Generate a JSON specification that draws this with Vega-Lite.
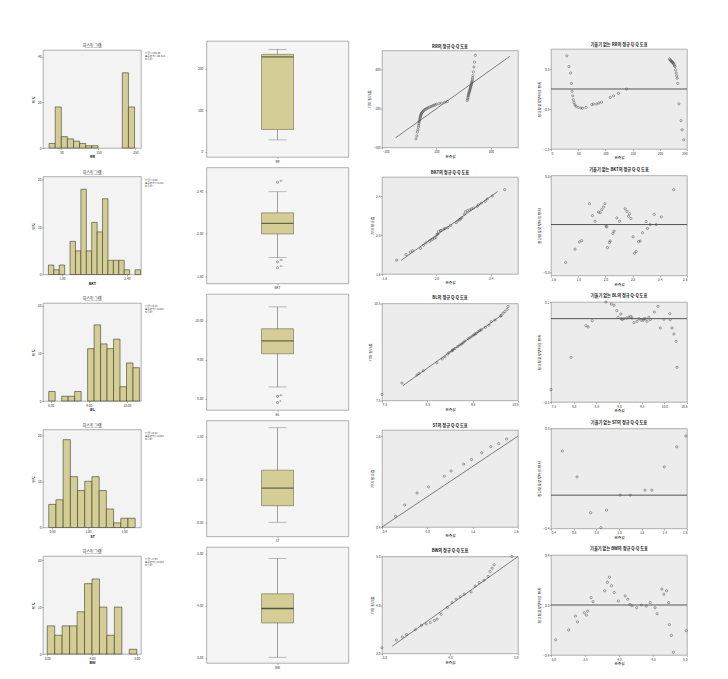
{
  "$schema": "https://vega.github.io/schema/vega-lite/v6.json",
  "background": "white",
  "padding": {"left": 31, "top": 40, "right": 0, "bottom": 0},
  "config": {
    "font": "Noto Sans CJK KR",
    "view": {"stroke": "#8f8f8f", "strokeWidth": 0.7},
    "axis": {"labelFontSize": 3.2, "titleFontSize": 3.8, "titleFontWeight": "normal", "labelColor": "#333333", "titleColor": "#222222", "tickSize": 1.5, "tickColor": "#666666", "tickWidth": 0.5, "domain": false, "grid": false, "labelPadding": 0.5, "titlePadding": 1.5},
    "title": {"fontSize": 4.2, "fontWeight": "bold", "offset": 1.5, "color": "#222222"},
    "point": {"shape": "circle", "size": 5, "stroke": "#4a4a4a", "strokeWidth": 0.5, "filled": false, "opacity": 1}
  },
  "spacing": 18,
  "hconcat": [
    {
      "spacing": 27.5,
      "hconcat": [
        {
          "bounds": "flush",
          "spacing": 8,
          "vconcat": [
            {"width": 1, "height": 1, "data": {"values": []}, "mark": "point", "view": {"stroke": null, "fill": null}},
            {
              "bounds": "flush",
              "spacing": 28.5,
              "vconcat": [
                {
                  "width": 98, "height": 98,
                  "view": {"fill": "#f3f3f3"},
                  "title": {"text": "히스토그램", "fontWeight": "normal"},
                  "layer": [
                    {"data": {"values": [{"start":16.5,"end":33,"count":2},{"start":33,"end":49.5,"count":18},{"start":49.5,"end":66,"count":5},{"start":66,"end":82.5,"count":4},{"start":82.5,"end":99,"count":3},{"start":99,"end":115.5,"count":2},{"start":115.5,"end":132,"count":1},{"start":132,"end":148.5,"count":1},{"start":214.5,"end":231,"count":33},{"start":231,"end":247.5,"count":18}]},
                     "mark": {"type": "rect", "fill": "#d4ce96", "stroke": "#3d3d2a", "strokeWidth": 0.6},
                     "encoding": {
                       "x": {"field": "start", "type": "quantitative", "title": "RR", "scale": {"domain": [0, 265], "nice": false, "zero": false}, "axis": {"values": [50,100,150,200,250], "format": "d", "titleFontWeight": "bold"}},
                       "x2": {"field": "end"},
                       "y": {"field": "count", "type": "quantitative", "title": "빈도", "scale": {"domain": [0, 43], "nice": false}, "axis": {"values": [0,10,20,30,40]}},
                       "y2": {"datum": 0}
                     }},
                    {"data": {"values": [{}]},
                     "mark": {"type": "text", "text": ["평균 = 158.46", "표준편차 = 88.312", "N = 87"], "align": "left", "baseline": "top", "dx": 4, "dy": 2, "fontSize": 2.6, "lineHeight": 3, "color": "#333333"},
                     "encoding": {"x": {"datum": 265}, "y": {"datum": 43}}}
                  ]
                },
                {
                  "width": 98, "height": 98,
                  "view": {"fill": "#f3f3f3"},
                  "title": {"text": "히스토그램", "fontWeight": "normal"},
                  "layer": [
                    {"data": {"values": [{"start":1.675,"end":1.725,"count":2},{"start":1.725,"end":1.775,"count":1},{"start":1.775,"end":1.825,"count":2},{"start":1.875,"end":1.925,"count":7},{"start":1.925,"end":1.975,"count":5},{"start":1.975,"end":2.025,"count":18},{"start":2.025,"end":2.075,"count":5},{"start":2.075,"end":2.125,"count":11},{"start":2.125,"end":2.175,"count":9},{"start":2.175,"end":2.225,"count":16},{"start":2.225,"end":2.275,"count":3},{"start":2.275,"end":2.325,"count":3},{"start":2.325,"end":2.375,"count":3},{"start":2.375,"end":2.425,"count":1},{"start":2.475,"end":2.525,"count":1}]},
                     "mark": {"type": "rect", "fill": "#d4ce96", "stroke": "#3d3d2a", "strokeWidth": 0.6},
                     "encoding": {
                       "x": {"field": "start", "type": "quantitative", "title": "BKT", "scale": {"domain": [1.625, 2.53], "nice": false, "zero": false}, "axis": {"values": [1.8,2.0,2.2,2.4], "format": ".2f", "titleFontWeight": "bold"}},
                       "x2": {"field": "end"},
                       "y": {"field": "count", "type": "quantitative", "title": "빈도", "scale": {"domain": [0, 20.7], "nice": false}, "axis": {"values": [0,5,10,15,20]}},
                       "y2": {"datum": 0}
                     }},
                    {"data": {"values": [{}]},
                     "mark": {"type": "text", "text": ["평균 = 2.08", "표준편차 = 0.151", "N = 87"], "align": "left", "baseline": "top", "dx": 4, "dy": 2, "fontSize": 2.6, "lineHeight": 3, "color": "#333333"},
                     "encoding": {"x": {"datum": 2.53}, "y": {"datum": 20.7}}}
                  ]
                },
                {
                  "width": 98, "height": 98,
                  "view": {"fill": "#f3f3f3"},
                  "title": {"text": "히스토그램", "fontWeight": "normal"},
                  "layer": [
                    {"data": {"values": [{"start":7.95,"end":8.12,"count":2},{"start":8.29,"end":8.46,"count":1},{"start":8.46,"end":8.63,"count":1},{"start":8.63,"end":8.80,"count":2},{"start":8.97,"end":9.14,"count":11},{"start":9.14,"end":9.31,"count":16},{"start":9.31,"end":9.48,"count":12},{"start":9.48,"end":9.65,"count":11},{"start":9.65,"end":9.82,"count":13},{"start":9.82,"end":9.99,"count":3},{"start":9.99,"end":10.16,"count":8},{"start":10.16,"end":10.33,"count":7}]},
                     "mark": {"type": "rect", "fill": "#d4ce96", "stroke": "#3d3d2a", "strokeWidth": 0.6},
                     "encoding": {
                       "x": {"field": "start", "type": "quantitative", "title": "BL", "scale": {"domain": [7.8, 10.37], "nice": false, "zero": false}, "axis": {"values": [8.0,8.5,9.0,9.5,10.0], "format": ".2f", "titleFontWeight": "bold"}},
                       "x2": {"field": "end"},
                       "y": {"field": "count", "type": "quantitative", "title": "빈도", "scale": {"domain": [0, 20.6], "nice": false}, "axis": {"values": [0,5,10,15,20]}},
                       "y2": {"datum": 0}
                     }},
                    {"data": {"values": [{}]},
                     "mark": {"type": "text", "text": ["평균 = 9.45", "표준편차 = 0.452", "N = 87"], "align": "left", "baseline": "top", "dx": 4, "dy": 2, "fontSize": 2.6, "lineHeight": 3, "color": "#333333"},
                     "encoding": {"x": {"datum": 10.37}, "y": {"datum": 20.6}}}
                  ]
                },
                {
                  "width": 98, "height": 98,
                  "view": {"fill": "#f3f3f3"},
                  "title": {"text": "히스토그램", "fontWeight": "normal"},
                  "layer": [
                    {"data": {"values": [{"start":0.455,"end":0.555,"count":5},{"start":0.555,"end":0.655,"count":6},{"start":0.655,"end":0.755,"count":19},{"start":0.755,"end":0.855,"count":11},{"start":0.855,"end":0.955,"count":8},{"start":0.955,"end":1.055,"count":10},{"start":1.055,"end":1.155,"count":11},{"start":1.155,"end":1.255,"count":8},{"start":1.255,"end":1.355,"count":4},{"start":1.355,"end":1.455,"count":1},{"start":1.455,"end":1.555,"count":2},{"start":1.555,"end":1.655,"count":2}]},
                     "mark": {"type": "rect", "fill": "#d4ce96", "stroke": "#3d3d2a", "strokeWidth": 0.6},
                     "encoding": {
                       "x": {"field": "start", "type": "quantitative", "title": "ST", "scale": {"domain": [0.375, 1.736], "nice": false, "zero": false}, "axis": {"values": [0.5,0.75,1.0,1.25,1.5], "format": ".2f", "titleFontWeight": "bold"}},
                       "x2": {"field": "end"},
                       "y": {"field": "count", "type": "quantitative", "title": "빈도", "scale": {"domain": [0, 21.2], "nice": false}, "axis": {"values": [0,5,10,15,20]}},
                       "y2": {"datum": 0}
                     }},
                    {"data": {"values": [{}]},
                     "mark": {"type": "text", "text": ["평균 = 0.92", "표준편차 = 0.262", "N = 87"], "align": "left", "baseline": "top", "dx": 4, "dy": 2, "fontSize": 2.6, "lineHeight": 3, "color": "#333333"},
                     "encoding": {"x": {"datum": 1.736}, "y": {"datum": 21.2}}}
                  ]
                },
                {
                  "width": 98, "height": 98,
                  "view": {"fill": "#f3f3f3"},
                  "title": {"text": "히스토그램", "fontWeight": "normal"},
                  "layer": [
                    {"data": {"values": [{"start":3.0,"end":3.167,"count":6},{"start":3.167,"end":3.333,"count":4},{"start":3.333,"end":3.5,"count":6},{"start":3.5,"end":3.667,"count":6},{"start":3.667,"end":3.833,"count":9},{"start":3.833,"end":4.0,"count":15},{"start":4.0,"end":4.167,"count":16},{"start":4.167,"end":4.333,"count":10},{"start":4.333,"end":4.5,"count":4},{"start":4.5,"end":4.667,"count":10},{"start":4.833,"end":5.0,"count":1}]},
                     "mark": {"type": "rect", "fill": "#d4ce96", "stroke": "#3d3d2a", "strokeWidth": 0.6},
                     "encoding": {
                       "x": {"field": "start", "type": "quantitative", "title": "BW", "scale": {"domain": [2.905, 5.095], "nice": false, "zero": false}, "axis": {"values": [3.0,3.5,4.0,4.5,5.0], "format": ".2f", "titleFontWeight": "bold"}},
                       "x2": {"field": "end"},
                       "y": {"field": "count", "type": "quantitative", "title": "빈도", "scale": {"domain": [0, 20.9], "nice": false}, "axis": {"values": [0,5,10,15,20]}},
                       "y2": {"datum": 0}
                     }},
                    {"data": {"values": [{}]},
                     "mark": {"type": "text", "text": ["평균 = 3.93", "표준편차 = 0.433", "N = 87"], "align": "left", "baseline": "top", "dx": 4, "dy": 2, "fontSize": 2.6, "lineHeight": 3, "color": "#333333"},
                     "encoding": {"x": {"datum": 5.095}, "y": {"datum": 20.9}}}
                  ]
                }
              ]
            }
          ]
        },
        {
          "bounds": "flush",
          "spacing": 10.5,
          "vconcat": [
            {
              "width": 142, "height": 116,
              "view": {"fill": "#f5f5f5"},
              "data": {"values": [{"var": "RR", "lo": 29, "q1": 54, "med": 228, "q3": 234, "hi": 246}]},
              "encoding": {"x": {"field": "var", "type": "nominal", "title": null, "axis": {"labelAngle": 0}}},
              "layer": [
                {"mark": {"type": "rule", "color": "#7a7a7a", "strokeWidth": 0.7}, "encoding": {"y": {"field": "lo", "type": "quantitative", "title": null, "scale": {"domain": [-12, 266], "nice": false, "zero": false}, "axis": {"values": [0,50,100,150,200,250], "format": "d", "labelPadding": 2.2}}, "y2": {"field": "hi"}}},
                {"mark": {"type": "tick", "color": "#7a7a7a", "size": 18, "thickness": 0.7}, "encoding": {"y": {"field": "lo", "type": "quantitative", "title": null}}},
                {"mark": {"type": "tick", "color": "#7a7a7a", "size": 18, "thickness": 0.7}, "encoding": {"y": {"field": "hi", "type": "quantitative", "title": null}}},
                {"mark": {"type": "bar", "size": 32, "fill": "#d4ce96", "stroke": "#6e6c4e", "strokeWidth": 0.6}, "encoding": {"y": {"field": "q1", "type": "quantitative", "title": null}, "y2": {"field": "q3"}}},
                {"mark": {"type": "tick", "color": "#3a3a2a", "size": 32, "thickness": 1.2}, "encoding": {"y": {"field": "med", "type": "quantitative", "title": null}}}
              ]
            },
            {
              "width": 142, "height": 116,
              "view": {"fill": "#f5f5f5"},
              "encoding": {"x": {"field": "var", "type": "nominal", "title": null, "axis": {"labelAngle": 0}}},
              "layer": [
                {"data": {"values": [{"var": "BKT", "lo": 1.775, "q1": 2.0, "med": 2.1, "q3": 2.2, "hi": 2.4}]},
                 "layer": [
                  {"mark": {"type": "rule", "color": "#7a7a7a", "strokeWidth": 0.7}, "encoding": {"y": {"field": "lo", "type": "quantitative", "title": null, "scale": {"domain": [1.53, 2.63], "nice": false, "zero": false}, "axis": {"values": [1.6,1.8,2.0,2.2,2.4,2.6], "format": ".2f", "labelPadding": 2.2}}, "y2": {"field": "hi"}}},
                  {"mark": {"type": "tick", "color": "#7a7a7a", "size": 18, "thickness": 0.7}, "encoding": {"y": {"field": "lo", "type": "quantitative", "title": null}}},
                  {"mark": {"type": "tick", "color": "#7a7a7a", "size": 18, "thickness": 0.7}, "encoding": {"y": {"field": "hi", "type": "quantitative", "title": null}}},
                  {"mark": {"type": "bar", "size": 32, "fill": "#d4ce96", "stroke": "#6e6c4e", "strokeWidth": 0.6}, "encoding": {"y": {"field": "q1", "type": "quantitative", "title": null}, "y2": {"field": "q3"}}},
                  {"mark": {"type": "tick", "color": "#3a3a2a", "size": 32, "thickness": 1.2}, "encoding": {"y": {"field": "med", "type": "quantitative", "title": null}}}
                 ]},
                {"data": {"values": [{"var": "BKT", "v": 2.49, "id": "37"}, {"var": "BKT", "v": 1.735, "id": "45"}, {"var": "BKT", "v": 1.68, "id": "11"}]},
                 "layer": [
                  {"mark": {"type": "point"}, "encoding": {"y": {"field": "v", "type": "quantitative", "title": null}}},
                  {"mark": {"type": "text", "align": "left", "dx": 2, "dy": -1.5, "fontSize": 2.8, "color": "#444444"}, "encoding": {"y": {"field": "v", "type": "quantitative", "title": null}, "text": {"field": "id"}}}
                 ]}
              ]
            },
            {
              "width": 142, "height": 116,
              "view": {"fill": "#f5f5f5"},
              "encoding": {"x": {"field": "var", "type": "nominal", "title": null, "axis": {"labelAngle": 0}}},
              "layer": [
                {"data": {"values": [{"var": "BL", "lo": 8.3, "q1": 9.15, "med": 9.48, "q3": 9.79, "hi": 10.35}]},
                 "layer": [
                  {"mark": {"type": "rule", "color": "#7a7a7a", "strokeWidth": 0.7}, "encoding": {"y": {"field": "lo", "type": "quantitative", "title": null, "scale": {"domain": [7.71, 10.68], "nice": false, "zero": false}, "axis": {"values": [8.0,8.5,9.0,9.5,10.0,10.5], "format": ".2f", "labelPadding": 2.2}}, "y2": {"field": "hi"}}},
                  {"mark": {"type": "tick", "color": "#7a7a7a", "size": 18, "thickness": 0.7}, "encoding": {"y": {"field": "lo", "type": "quantitative", "title": null}}},
                  {"mark": {"type": "tick", "color": "#7a7a7a", "size": 18, "thickness": 0.7}, "encoding": {"y": {"field": "hi", "type": "quantitative", "title": null}}},
                  {"mark": {"type": "bar", "size": 32, "fill": "#d4ce96", "stroke": "#6e6c4e", "strokeWidth": 0.6}, "encoding": {"y": {"field": "q1", "type": "quantitative", "title": null}, "y2": {"field": "q3"}}},
                  {"mark": {"type": "tick", "color": "#3a3a2a", "size": 32, "thickness": 1.2}, "encoding": {"y": {"field": "med", "type": "quantitative", "title": null}}}
                 ]},
                {"data": {"values": [{"var": "BL", "v": 8.06, "id": "21"}, {"var": "BL", "v": 7.9, "id": "5"}]},
                 "layer": [
                  {"mark": {"type": "point"}, "encoding": {"y": {"field": "v", "type": "quantitative", "title": null}}},
                  {"mark": {"type": "text", "align": "left", "dx": 2, "dy": -1.5, "fontSize": 2.8, "color": "#444444"}, "encoding": {"y": {"field": "v", "type": "quantitative", "title": null}, "text": {"field": "id"}}}
                 ]}
              ]
            },
            {
              "width": 142, "height": 116,
              "view": {"fill": "#f5f5f5"},
              "data": {"values": [{"var": "ST", "lo": 0.50, "q1": 0.692, "med": 0.896, "q3": 1.104, "hi": 1.596}]},
              "encoding": {"x": {"field": "var", "type": "nominal", "title": null, "axis": {"labelAngle": 0}}},
              "layer": [
                {"mark": {"type": "rule", "color": "#7a7a7a", "strokeWidth": 0.7}, "encoding": {"y": {"field": "lo", "type": "quantitative", "title": null, "scale": {"domain": [0.335, 1.68], "nice": false, "zero": false}, "axis": {"values": [0.5,0.75,1.0,1.25,1.5], "format": ".2f", "labelPadding": 2.2}}, "y2": {"field": "hi"}}},
                {"mark": {"type": "tick", "color": "#7a7a7a", "size": 18, "thickness": 0.7}, "encoding": {"y": {"field": "lo", "type": "quantitative", "title": null}}},
                {"mark": {"type": "tick", "color": "#7a7a7a", "size": 18, "thickness": 0.7}, "encoding": {"y": {"field": "hi", "type": "quantitative", "title": null}}},
                {"mark": {"type": "bar", "size": 32, "fill": "#d4ce96", "stroke": "#6e6c4e", "strokeWidth": 0.6}, "encoding": {"y": {"field": "q1", "type": "quantitative", "title": null}, "y2": {"field": "q3"}}},
                {"mark": {"type": "tick", "color": "#3a3a2a", "size": 32, "thickness": 1.2}, "encoding": {"y": {"field": "med", "type": "quantitative", "title": null}}}
              ]
            },
            {
              "width": 142, "height": 116,
              "view": {"fill": "#f5f5f5"},
              "data": {"values": [{"var": "BW", "lo": 3.01, "q1": 3.67, "med": 3.95, "q3": 4.23, "hi": 4.91}]},
              "encoding": {"x": {"field": "var", "type": "nominal", "title": null, "axis": {"labelAngle": 0}}},
              "layer": [
                {"mark": {"type": "rule", "color": "#7a7a7a", "strokeWidth": 0.7}, "encoding": {"y": {"field": "lo", "type": "quantitative", "title": null, "scale": {"domain": [2.9, 5.13], "nice": false, "zero": false}, "axis": {"values": [3.0,3.5,4.0,4.5,5.0], "format": ".2f", "labelPadding": 2.2}}, "y2": {"field": "hi"}}},
                {"mark": {"type": "tick", "color": "#7a7a7a", "size": 18, "thickness": 0.7}, "encoding": {"y": {"field": "lo", "type": "quantitative", "title": null}}},
                {"mark": {"type": "tick", "color": "#7a7a7a", "size": 18, "thickness": 0.7}, "encoding": {"y": {"field": "hi", "type": "quantitative", "title": null}}},
                {"mark": {"type": "bar", "size": 32, "fill": "#d4ce96", "stroke": "#6e6c4e", "strokeWidth": 0.6}, "encoding": {"y": {"field": "q1", "type": "quantitative", "title": null}, "y2": {"field": "q3"}}},
                {"mark": {"type": "tick", "color": "#1e1e14", "size": 32, "thickness": 1.5}, "encoding": {"y": {"field": "med", "type": "quantitative", "title": null}}}
              ]
            }
          ]
        }
      ]
    },
    {
      "spacing": 17,
      "hconcat": [
        {
          "bounds": "flush",
          "spacing": 8.5,
          "vconcat": [
            {"width": 1, "height": 1, "data": {"values": []}, "mark": "point", "view": {"stroke": null, "fill": null}},
            {
              "bounds": "flush",
              "spacing": 29.5,
              "vconcat": [
                {
                  "width": 136, "height": 97,
                  "view": {"fill": "#ececec"},
                  "title": {"text": "RR의 정규 Q-Q 도표"},
                  "layer": [
                    {"data": {"values": [{"obs":25,"exp":-55},{"obs":28,"exp":-40},{"obs":30,"exp":-20},{"obs":32,"exp":-8},{"obs":34,"exp":5},{"obs":35,"exp":15},{"obs":36,"exp":25},{"obs":37,"exp":33},{"obs":38,"exp":40},{"obs":39,"exp":47},{"obs":40,"exp":53},{"obs":41,"exp":58},{"obs":42,"exp":63},{"obs":43,"exp":68},{"obs":44,"exp":72},{"obs":45,"exp":76},{"obs":47,"exp":80},{"obs":49,"exp":84},{"obs":52,"exp":88},{"obs":55,"exp":92},{"obs":58,"exp":96},{"obs":62,"exp":99},{"obs":66,"exp":102},{"obs":70,"exp":105},{"obs":75,"exp":108},{"obs":80,"exp":111},{"obs":85,"exp":114},{"obs":90,"exp":117},{"obs":95,"exp":120},{"obs":100,"exp":123},{"obs":110,"exp":126},{"obs":118,"exp":129},{"obs":130,"exp":133},{"obs":140,"exp":137},{"obs":213,"exp":142},{"obs":215,"exp":150},{"obs":216,"exp":158},{"obs":217,"exp":165},{"obs":218,"exp":171},{"obs":219,"exp":177},{"obs":220,"exp":182},{"obs":221,"exp":187},{"obs":222,"exp":192},{"obs":223,"exp":197},{"obs":224,"exp":202},{"obs":225,"exp":207},{"obs":226,"exp":212},{"obs":227,"exp":217},{"obs":228,"exp":222},{"obs":229,"exp":228},{"obs":230,"exp":234},{"obs":231,"exp":240},{"obs":232,"exp":248},{"obs":233,"exp":258},{"obs":234,"exp":270},{"obs":236,"exp":290},{"obs":238,"exp":315},{"obs":240,"exp":340},{"obs":243,"exp":375}]},
                     "mark": {"type": "point"},
                     "encoding": {
                       "x": {"field": "obs", "type": "quantitative", "title": "관측값", "scale": {"domain": [-100, 400], "nice": false, "zero": false}, "axis": {"values": [-100,0,100,200,300,400], "format": "d"}},
                       "y": {"field": "exp", "type": "quantitative", "title": "기대 정규값", "scale": {"domain": [-100, 400], "nice": false, "zero": false}, "axis": {"values": [-100,0,100,200,300,400], "format": "d"}}
                     }},
                    {"data": {"values": [{}]}, "mark": {"type": "rule", "color": "#333333", "strokeWidth": 0.6},
                     "encoding": {"x": {"datum": -50}, "y": {"datum": -50}, "x2": {"datum": 370}, "y2": {"datum": 370}}}
                  ]
                },
                {
                  "width": 136, "height": 97,
                  "view": {"fill": "#ececec"},
                  "title": {"text": "BKT의 정규 Q-Q 도표"},
                  "layer": [
                    {"data": {"values": [{"obs":1.708,"exp":1.743},{"obs":1.777,"exp":1.800},{"obs":1.809,"exp":1.825},{"obs":1.826,"exp":1.841},{"obs":1.883,"exp":1.864},{"obs":1.905,"exp":1.897},{"obs":1.924,"exp":1.921},{"obs":1.949,"exp":1.937},{"obs":1.961,"exp":1.950},{"obs":1.973,"exp":1.959},{"obs":1.986,"exp":1.970},{"obs":1.996,"exp":1.977},{"obs":2.005,"exp":2.007},{"obs":2.010,"exp":2.012},{"obs":2.015,"exp":2.036},{"obs":2.030,"exp":2.047},{"obs":2.035,"exp":2.050},{"obs":2.055,"exp":2.063},{"obs":2.064,"exp":2.070},{"obs":2.084,"exp":2.078},{"obs":2.104,"exp":2.101},{"obs":2.145,"exp":2.130},{"obs":2.158,"exp":2.146},{"obs":2.170,"exp":2.162},{"obs":2.177,"exp":2.167},{"obs":2.187,"exp":2.181},{"obs":2.204,"exp":2.215},{"obs":2.214,"exp":2.241},{"obs":2.227,"exp":2.252},{"obs":2.244,"exp":2.260},{"obs":2.256,"exp":2.271},{"obs":2.273,"exp":2.281},{"obs":2.300,"exp":2.297},{"obs":2.310,"exp":2.314},{"obs":2.330,"exp":2.330},{"obs":2.359,"exp":2.350},{"obs":2.374,"exp":2.374},{"obs":2.411,"exp":2.404},{"obs":2.502,"exp":2.470}]},
                     "mark": {"type": "point"},
                     "encoding": {
                       "x": {"field": "obs", "type": "quantitative", "title": "관측값", "scale": {"domain": [1.6, 2.6], "nice": false, "zero": false}, "axis": {"values": [1.6,1.8,2.0,2.2,2.4,2.6], "format": ".1f"}},
                       "y": {"field": "exp", "type": "quantitative", "title": "기대 정규값", "scale": {"domain": [1.6, 2.6], "nice": false, "zero": false}, "axis": {"values": [1.6,1.8,2.0,2.2,2.4,2.6], "format": ".1f"}}
                     }},
                    {"data": {"values": [{}]}, "mark": {"type": "rule", "color": "#333333", "strokeWidth": 0.6},
                     "encoding": {"x": {"datum": 1.74}, "y": {"datum": 1.74}, "x2": {"datum": 2.45}, "y2": {"datum": 2.45}}}
                  ]
                },
                {
                  "width": 136, "height": 97,
                  "view": {"fill": "#ececec"},
                  "title": {"text": "BL의 정규 Q-Q 도표"},
                  "layer": [
                    {"data": {"values": [{"obs":7.50,"exp":7.69},{"obs":7.94,"exp":8.04},{"obs":8.27,"exp":8.29},{"obs":8.32,"exp":8.34},{"obs":8.41,"exp":8.42},{"obs":8.71,"exp":8.67},{"obs":8.83,"exp":8.79},{"obs":8.89,"exp":8.85},{"obs":8.95,"exp":8.93},{"obs":8.98,"exp":8.98},{"obs":9.04,"exp":9.03},{"obs":9.05,"exp":9.05},{"obs":9.07,"exp":9.07},{"obs":9.11,"exp":9.11},{"obs":9.17,"exp":9.17},{"obs":9.22,"exp":9.22},{"obs":9.26,"exp":9.25},{"obs":9.29,"exp":9.29},{"obs":9.33,"exp":9.34},{"obs":9.40,"exp":9.41},{"obs":9.44,"exp":9.44},{"obs":9.49,"exp":9.49},{"obs":9.53,"exp":9.53},{"obs":9.55,"exp":9.55},{"obs":9.58,"exp":9.58},{"obs":9.62,"exp":9.63},{"obs":9.66,"exp":9.66},{"obs":9.69,"exp":9.69},{"obs":9.78,"exp":9.76},{"obs":9.86,"exp":9.83},{"obs":9.91,"exp":9.94},{"obs":9.99,"exp":9.99},{"obs":10.12,"exp":10.11},{"obs":10.13,"exp":10.13},{"obs":10.17,"exp":10.20},{"obs":10.21,"exp":10.25},{"obs":10.26,"exp":10.32},{"obs":10.28,"exp":10.41}]},
                     "mark": {"type": "point"},
                     "encoding": {
                       "x": {"field": "obs", "type": "quantitative", "title": "관측값", "scale": {"domain": [7.5, 10.5], "nice": false, "zero": false}, "axis": {"values": [7.5,8.0,8.5,9.0,9.5,10.0,10.5], "format": ".1f"}},
                       "y": {"field": "exp", "type": "quantitative", "title": "기대 정규값", "scale": {"domain": [7.5, 10.5], "nice": false, "zero": false}, "axis": {"values": [7.5,8.0,8.5,9.0,9.5,10.0,10.5], "format": ".1f"}}
                     }},
                    {"data": {"values": [{}]}, "mark": {"type": "rule", "color": "#333333", "strokeWidth": 0.6},
                     "encoding": {"x": {"datum": 7.96}, "y": {"datum": 7.96}, "x2": {"datum": 10.12}, "y2": {"datum": 10.12}}}
                  ]
                },
                {
                  "width": 136, "height": 97,
                  "view": {"fill": "#ececec"},
                  "title": {"text": "ST의 정규 Q-Q 도표"},
                  "layer": [
                    {"data": {"values": [{"obs":0.52,"exp":0.54},{"obs":0.60,"exp":0.69},{"obs":0.71,"exp":0.85},{"obs":0.81,"exp":0.93},{"obs":0.95,"exp":1.07},{"obs":1.01,"exp":1.14},{"obs":1.12,"exp":1.23},{"obs":1.19,"exp":1.29},{"obs":1.28,"exp":1.38},{"obs":1.36,"exp":1.46},{"obs":1.43,"exp":1.50},{"obs":1.50,"exp":1.56}]},
                     "mark": {"type": "point"},
                     "encoding": {
                       "x": {"field": "obs", "type": "quantitative", "title": "관측값", "scale": {"domain": [0.4, 1.6], "nice": false, "zero": false}, "axis": {"values": [0.4,0.6,0.8,1.0,1.2,1.4,1.6], "format": ".1f"}},
                       "y": {"field": "exp", "type": "quantitative", "title": "기대 정규값", "scale": {"domain": [0.4, 1.68], "nice": false, "zero": false}, "axis": {"values": [0.4,0.6,0.8,1.0,1.2,1.4,1.6], "format": ".1f"}}
                     }},
                    {"data": {"values": [{}]}, "mark": {"type": "rule", "color": "#333333", "strokeWidth": 0.6},
                     "encoding": {"x": {"datum": 0.4}, "y": {"datum": 0.4}, "x2": {"datum": 1.6}, "y2": {"datum": 1.6}}}
                  ]
                },
                {
                  "width": 136, "height": 97,
                  "view": {"fill": "#ececec"},
                  "title": {"text": "BW의 정규 Q-Q 도표"},
                  "layer": [
                    {"data": {"values": [{"obs":3.00,"exp":3.12},{"obs":3.21,"exp":3.28},{"obs":3.30,"exp":3.34},{"obs":3.36,"exp":3.39},{"obs":3.49,"exp":3.49},{"obs":3.58,"exp":3.58},{"obs":3.65,"exp":3.61},{"obs":3.71,"exp":3.64},{"obs":3.77,"exp":3.68},{"obs":3.81,"exp":3.71},{"obs":3.87,"exp":3.81},{"obs":3.96,"exp":3.95},{"obs":4.03,"exp":4.05},{"obs":4.09,"exp":4.12},{"obs":4.15,"exp":4.17},{"obs":4.21,"exp":4.22},{"obs":4.31,"exp":4.27},{"obs":4.37,"exp":4.39},{"obs":4.43,"exp":4.46},{"obs":4.50,"exp":4.51},{"obs":4.56,"exp":4.59},{"obs":4.59,"exp":4.69},{"obs":4.62,"exp":4.76},{"obs":4.65,"exp":4.83},{"obs":4.91,"exp":5.00}]},
                     "mark": {"type": "point"},
                     "encoding": {
                       "x": {"field": "obs", "type": "quantitative", "title": "관측값", "scale": {"domain": [3.0, 5.0], "nice": false, "zero": false}, "axis": {"values": [3.0,3.5,4.0,4.5,5.0], "format": ".1f"}},
                       "y": {"field": "exp", "type": "quantitative", "title": "기대 정규값", "scale": {"domain": [3.0, 5.0], "nice": false, "zero": false}, "axis": {"values": [3.0,3.5,4.0,4.5,5.0], "format": ".1f"}}
                     }},
                    {"data": {"values": [{}]}, "mark": {"type": "rule", "color": "#333333", "strokeWidth": 0.6},
                     "encoding": {"x": {"datum": 3.15}, "y": {"datum": 3.15}, "x2": {"datum": 5.0}, "y2": {"datum": 5.0}}}
                  ]
                }
              ]
            }
          ]
        },
        {
          "bounds": "flush",
          "spacing": 7,
          "vconcat": [
            {"width": 1, "height": 1, "data": {"values": []}, "mark": "point", "view": {"stroke": null, "fill": null}},
            {
              "bounds": "flush",
              "spacing": 26.5,
              "vconcat": [
                {
                  "width": 136, "height": 100,
                  "view": {"fill": "#ececec"},
                  "title": {"text": "기울기 없는 RR의 정규 Q-Q 도표"},
                  "layer": [
                    {"data": {"values": [{"obs":29,"dev":0.83},{"obs":33,"dev":0.56},{"obs":36,"dev":0.40},{"obs":37.5,"dev":0.14},{"obs":38.7,"dev":-0.06},{"obs":40,"dev":-0.17},{"obs":41,"dev":-0.27},{"obs":42.4,"dev":-0.34},{"obs":44,"dev":-0.40},{"obs":46,"dev":-0.43},{"obs":50,"dev":-0.46},{"obs":55,"dev":-0.475},{"obs":58,"dev":-0.48},{"obs":64.5,"dev":-0.46},{"obs":75,"dev":-0.39},{"obs":78,"dev":-0.375},{"obs":84,"dev":-0.375},{"obs":88,"dev":-0.35},{"obs":93,"dev":-0.33},{"obs":109,"dev":-0.21},{"obs":115,"dev":-0.17},{"obs":124,"dev":-0.11},{"obs":139,"dev":0.0},{"obs":218,"dev":0.75},{"obs":219,"dev":0.73},{"obs":220,"dev":0.71},{"obs":221,"dev":0.70},{"obs":222,"dev":0.68},{"obs":223,"dev":0.67},{"obs":224,"dev":0.66},{"obs":225,"dev":0.64},{"obs":226,"dev":0.62},{"obs":227,"dev":0.58},{"obs":228,"dev":0.56},{"obs":229,"dev":0.48},{"obs":230,"dev":0.40},{"obs":231,"dev":0.33},{"obs":232,"dev":0.27},{"obs":233,"dev":0.14},{"obs":235,"dev":-0.37},{"obs":239,"dev":-0.79},{"obs":241,"dev":-1.02},{"obs":244,"dev":-1.27}]},
                     "mark": {"type": "point"},
                     "encoding": {
                       "x": {"field": "obs", "type": "quantitative", "title": "관측값", "scale": {"domain": [0, 250], "nice": false, "zero": false}, "axis": {"values": [0,50,100,150,200,250], "format": "d"}},
                       "y": {"field": "dev", "type": "quantitative", "title": "정규분포로부터의 편차", "scale": {"domain": [-1.5, 1.0], "nice": false, "zero": false}, "axis": {"values": [-1.5,-1.0,-0.5,0,0.5,1.0], "format": ".1f"}}
                     }},
                    {"data": {"values": [{}]}, "mark": {"type": "rule", "color": "#555555", "strokeWidth": 1}, "encoding": {"y": {"datum": 0}}}
                  ]
                },
                {
                  "width": 136, "height": 100,
                  "view": {"fill": "#ececec"},
                  "title": {"text": "기울기 없는 BKT의 정규 Q-Q 도표"},
                  "layer": [
                    {"data": {"values": [{"obs":1.708,"dev":-0.235},{"obs":1.777,"dev":-0.153},{"obs":1.809,"dev":-0.108},{"obs":1.826,"dev":-0.100},{"obs":1.883,"dev":0.129},{"obs":1.905,"dev":0.055},{"obs":1.924,"dev":0.020},{"obs":1.949,"dev":0.078},{"obs":1.961,"dev":0.073},{"obs":1.973,"dev":0.092},{"obs":1.986,"dev":0.108},{"obs":1.996,"dev":0.129},{"obs":2.005,"dev":-0.010},{"obs":2.010,"dev":-0.014},{"obs":2.015,"dev":-0.143},{"obs":2.030,"dev":-0.112},{"obs":2.035,"dev":-0.102},{"obs":2.055,"dev":-0.055},{"obs":2.064,"dev":-0.041},{"obs":2.084,"dev":0.041},{"obs":2.104,"dev":0.020},{"obs":2.145,"dev":0.098},{"obs":2.158,"dev":0.082},{"obs":2.170,"dev":0.051},{"obs":2.177,"dev":0.067},{"obs":2.187,"dev":0.037},{"obs":2.204,"dev":-0.076},{"obs":2.214,"dev":-0.178},{"obs":2.227,"dev":-0.167},{"obs":2.244,"dev":-0.106},{"obs":2.256,"dev":-0.102},{"obs":2.273,"dev":-0.051},{"obs":2.300,"dev":0.018},{"obs":2.310,"dev":-0.024},{"obs":2.330,"dev":0.000},{"obs":2.359,"dev":0.063},{"obs":2.374,"dev":0.000},{"obs":2.411,"dev":0.047},{"obs":2.502,"dev":0.216}]},
                     "mark": {"type": "point"},
                     "encoding": {
                       "x": {"field": "obs", "type": "quantitative", "title": "관측값", "scale": {"domain": [1.6, 2.6], "nice": false, "zero": false}, "axis": {"values": [1.6,1.8,2.0,2.2,2.4,2.6], "format": ".1f"}},
                       "y": {"field": "dev", "type": "quantitative", "title": "정규분포로부터의 편차", "scale": {"domain": [-0.316, 0.304], "nice": false, "zero": false}, "axis": {"values": [-0.3,-0.2,-0.1,0,0.1,0.2,0.3], "format": ".1f"}}
                     }},
                    {"data": {"values": [{}]}, "mark": {"type": "rule", "color": "#555555", "strokeWidth": 1}, "encoding": {"y": {"datum": 0}}}
                  ]
                },
                {
                  "width": 136, "height": 100,
                  "view": {"fill": "#ececec"},
                  "title": {"text": "기울기 없는 BL의 정규 Q-Q 도표"},
                  "layer": [
                    {"data": {"values": [{"obs":7.50,"dev":-0.426},{"obs":7.94,"dev":-0.232},{"obs":8.27,"dev":-0.042},{"obs":8.32,"dev":-0.05},{"obs":8.41,"dev":-0.012},{"obs":8.71,"dev":0.10},{"obs":8.83,"dev":0.088},{"obs":8.89,"dev":0.08},{"obs":8.95,"dev":0.048},{"obs":8.98,"dev":0.008},{"obs":9.04,"dev":0.028},{"obs":9.05,"dev":0},{"obs":9.07,"dev":-0.006},{"obs":9.11,"dev":0},{"obs":9.17,"dev":0.004},{"obs":9.22,"dev":0.01},{"obs":9.26,"dev":0.014},{"obs":9.29,"dev":0.004},{"obs":9.33,"dev":-0.024},{"obs":9.40,"dev":-0.016},{"obs":9.44,"dev":0},{"obs":9.49,"dev":-0.01},{"obs":9.53,"dev":-0.01},{"obs":9.55,"dev":-0.002},{"obs":9.58,"dev":0},{"obs":9.62,"dev":-0.016},{"obs":9.66,"dev":0.008},{"obs":9.69,"dev":-0.006},{"obs":9.78,"dev":0.04},{"obs":9.86,"dev":0.074},{"obs":9.91,"dev":-0.056},{"obs":9.99,"dev":-0.004},{"obs":10.12,"dev":0.03},{"obs":10.13,"dev":-0.006},{"obs":10.17,"dev":-0.056},{"obs":10.21,"dev":-0.092},{"obs":10.26,"dev":-0.136},{"obs":10.28,"dev":-0.292}]},
                     "mark": {"type": "point"},
                     "encoding": {
                       "x": {"field": "obs", "type": "quantitative", "title": "관측값", "scale": {"domain": [7.5, 10.5], "nice": false, "zero": false}, "axis": {"values": [7.5,8.0,8.5,9.0,9.5,10.0,10.5], "format": ".1f"}},
                       "y": {"field": "dev", "type": "quantitative", "title": "정규분포로부터의 편차", "scale": {"domain": [-0.5, 0.1], "nice": false, "zero": false}, "axis": {"values": [-0.5,-0.4,-0.3,-0.2,-0.1,0,0.1], "format": ".1f"}}
                     }},
                    {"data": {"values": [{}]}, "mark": {"type": "rule", "color": "#555555", "strokeWidth": 1}, "encoding": {"y": {"datum": 0}}}
                  ]
                },
                {
                  "width": 136, "height": 100,
                  "view": {"fill": "#ececec"},
                  "title": {"text": "기울기 없는 ST의 정규 Q-Q 도표"},
                  "layer": [
                    {"data": {"values": [{"obs":0.50,"dev":0.53},{"obs":0.63,"dev":0.22},{"obs":0.75,"dev":-0.21},{"obs":0.84,"dev":-0.39},{"obs":0.89,"dev":-0.18},{"obs":1.01,"dev":0},{"obs":1.10,"dev":0},{"obs":1.23,"dev":0.06},{"obs":1.29,"dev":0.06},{"obs":1.40,"dev":0.34},{"obs":1.51,"dev":0.58},{"obs":1.59,"dev":0.71}]},
                     "mark": {"type": "point"},
                     "encoding": {
                       "x": {"field": "obs", "type": "quantitative", "title": "관측값", "scale": {"domain": [0.4, 1.6], "nice": false, "zero": false}, "axis": {"values": [0.4,0.6,0.8,1.0,1.2,1.4,1.6], "format": ".1f"}},
                       "y": {"field": "dev", "type": "quantitative", "title": "정규분포로부터의 편차", "scale": {"domain": [-0.4, 0.8], "nice": false, "zero": false}, "axis": {"values": [-0.4,-0.2,0,0.2,0.4,0.6,0.8], "format": ".1f"}}
                     }},
                    {"data": {"values": [{}]}, "mark": {"type": "rule", "color": "#555555", "strokeWidth": 1}, "encoding": {"y": {"datum": 0}}}
                  ]
                },
                {
                  "width": 136, "height": 100,
                  "view": {"fill": "#ececec"},
                  "title": {"text": "기울기 없는 BW의 정규 Q-Q 도표"},
                  "layer": [
                    {"data": {"values": [{"obs":3.07,"dev":-0.278},{"obs":3.26,"dev":-0.2},{"obs":3.36,"dev":-0.089},{"obs":3.39,"dev":-0.135},{"obs":3.49,"dev":-0.062},{"obs":3.52,"dev":-0.081},{"obs":3.54,"dev":-0.049},{"obs":3.59,"dev":0.059},{"obs":3.62,"dev":0.027},{"obs":3.79,"dev":0.114},{"obs":3.83,"dev":0.181},{"obs":3.86,"dev":0.222},{"obs":3.89,"dev":0.154},{"obs":3.93,"dev":0.1},{"obs":3.99,"dev":0.032},{"obs":4.09,"dev":0.073},{"obs":4.13,"dev":0.046},{"obs":4.16,"dev":0.005},{"obs":4.19,"dev":-0.008},{"obs":4.26,"dev":-0.022},{"obs":4.33,"dev":0},{"obs":4.40,"dev":-0.008},{"obs":4.46,"dev":0.019},{"obs":4.53,"dev":-0.022},{"obs":4.56,"dev":-0.07},{"obs":4.63,"dev":0.127},{"obs":4.66,"dev":0.086},{"obs":4.70,"dev":0.114},{"obs":4.73,"dev":0.019},{"obs":4.74,"dev":-0.157},{"obs":4.77,"dev":-0.243},{"obs":4.80,"dev":-0.378},{"obs":4.99,"dev":-0.205}]},
                     "mark": {"type": "point"},
                     "encoding": {
                       "x": {"field": "obs", "type": "quantitative", "title": "관측값", "scale": {"domain": [3.0, 5.0], "nice": false, "zero": false}, "axis": {"values": [3.0,3.5,4.0,4.5,5.0], "format": ".1f"}},
                       "y": {"field": "dev", "type": "quantitative", "title": "정규분포로부터의 편차", "scale": {"domain": [-0.4, 0.4], "nice": false, "zero": false}, "axis": {"values": [-0.4,-0.2,0,0.2,0.4], "format": ".1f"}}
                     }},
                    {"data": {"values": [{}]}, "mark": {"type": "rule", "color": "#555555", "strokeWidth": 1}, "encoding": {"y": {"datum": 0}}}
                  ]
                }
              ]
            }
          ]
        }
      ]
    }
  ]
}
